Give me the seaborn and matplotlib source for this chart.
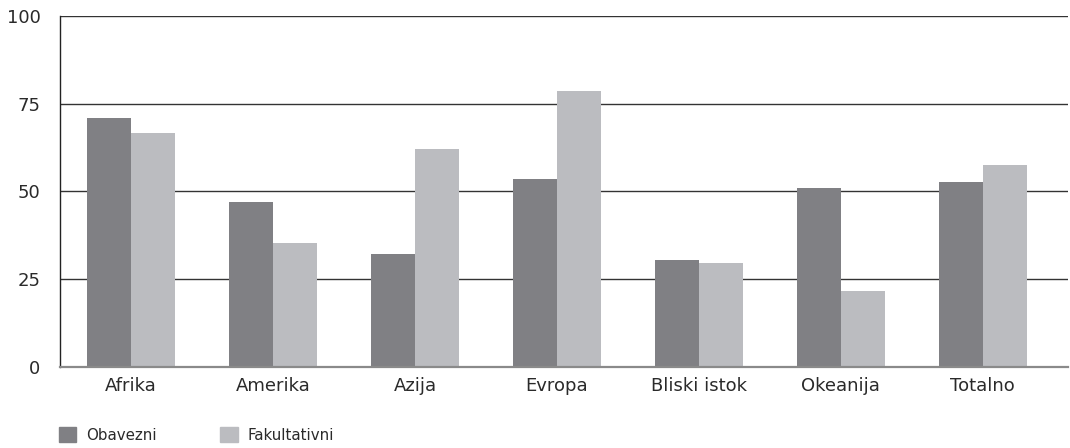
import matplotlib
matplotlib.use("Agg")
import matplotlib.pyplot as plt
import seaborn as sns
import pandas as pd
import numpy as np

regions = ["Afrika", "Amerika", "Azija", "Evropa", "Bliski istok", "Okeanija", "Totalno"]
obavezni = [70.8, 47.1, 32.2, 53.6, 30.5, 51.1, 52.8]
fakultativni = [66.8, 35.4, 62.2, 78.5, 29.7, 21.7, 57.6]
series_names = ["Obavezni", "Fakultativni"]
yticks = [0, 25, 50, 75, 100]

df = pd.DataFrame({
    "region": regions * 2,
    "value": obavezni + fakultativni,
    "series": [series_names[0]] * len(regions) + [series_names[1]] * len(regions),
})

sns.set_theme(style="white")
plt.rcParams["font.family"] = ["DejaVu Sans"]

fig = plt.figure(figsize=(10.7, 4.48), dpi=100)
ax = fig.add_axes([60 / 1070, 81 / 448, 1008 / 1070, 351 / 448])

palette = {"Obavezni": "#808084", "Fakultativni": "#bbbcc0"}
sns.barplot(data=df, x="region", y="value", hue="series", palette=palette,
            width=0.62, saturation=1, ax=ax, legend=False, zorder=3,
            linewidth=0, edgecolor="none")

ax.set_ylim(0, 100)
ax.set_xlim(-0.5, 6.6)
ax.set_yticks(yticks)
ax.set_xlabel("")
ax.set_ylabel("")

# horizontal reference lines
for y in yticks[1:]:
    ax.axhline(y, color="#333333", lw=1.0, zorder=1)

for s in ["top", "right"]:
    ax.spines[s].set_visible(False)
ax.spines["left"].set_color("#222222")
ax.spines["left"].set_linewidth(1.0)
ax.spines["bottom"].set_color("#8a8a8a")
ax.spines["bottom"].set_linewidth(1.6)
ax.spines["bottom"].set_zorder(4)

# category boundary ticks below the baseline
ax.set_xticks(np.arange(-0.5, len(regions), 1.0), minor=True)
ax.tick_params(axis="x", which="minor", length=9, width=1.0, color="#222222", direction="out")
ax.tick_params(axis="x", which="major", length=0, labelsize=13, pad=7.5, labelcolor="#2a2a2a")
ax.tick_params(axis="y", which="major", length=9, width=1.0, color="#222222",
               direction="out", labelsize=13, pad=5, labelcolor="#2a2a2a")

handles = [plt.Rectangle((0, 0), 1, 1, color=palette[n]) for n in series_names]
fig.legend(handles, series_names, loc="lower left", bbox_to_anchor=(45 / 1070, -8 / 448),
           ncol=2, frameon=False, fontsize=10.8, handlelength=1.15, handleheight=1.15,
           columnspacing=4.25, handletextpad=0.68, labelcolor="#2a2a2a",
           borderaxespad=0.5)

fig.savefig("out.png", dpi=100)
